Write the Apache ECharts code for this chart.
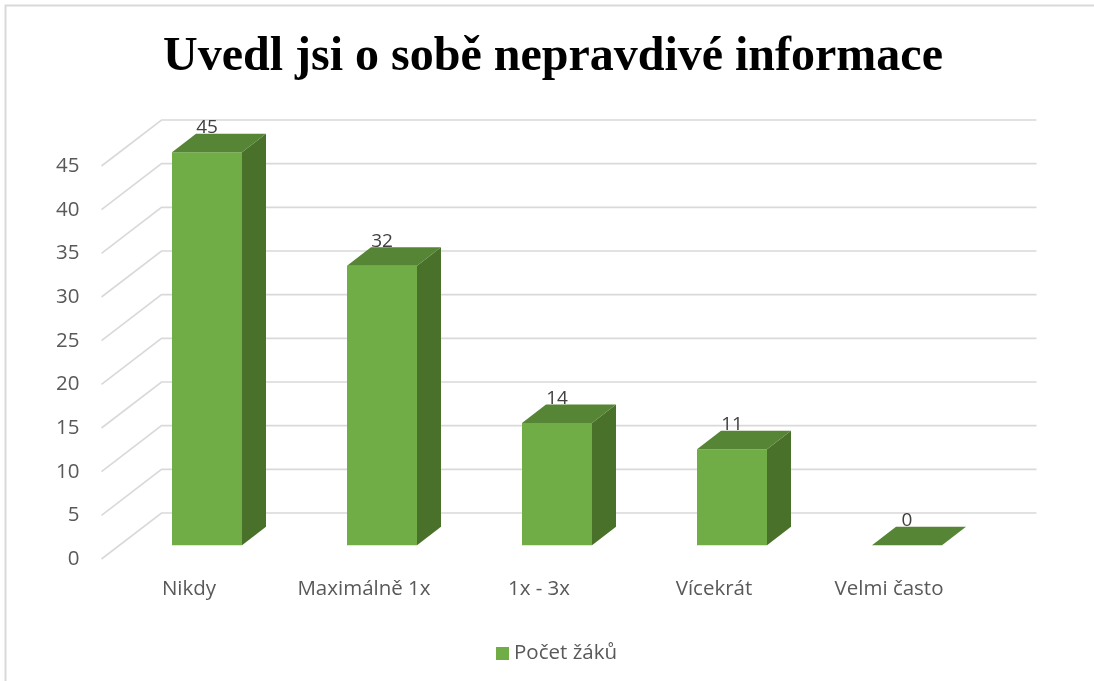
<!DOCTYPE html>
<html>
<head>
<meta charset="utf-8">
<script src="https://cdn.jsdelivr.net/npm/echarts@6/dist/echarts.min.js"></script>
<style>
  html, body { margin: 0; padding: 0; background: #ffffff; }
  #chart { width: 1094px; height: 681px; }
</style>
</head>
<body>
<div id="chart"></div>
<script>
// Survey answers and how many pupils gave each one
const categories = ['Nikdy', 'Maximálně 1x', '1x - 3x', 'Vícekrát', 'Velmi často'];
const counts = [45, 32, 14, 11, 0];
const valueTicks = [0, 5, 10, 15, 20, 25, 30, 35, 40, 45];
const seriesName = 'Počet žáků';
const titleText = 'Uvedl jsi o sobě nepravdivé informace';

// Oblique 3D look: full floor depth as a pixel offset, bar placement inside that depth
const DEPTH_X = 60, DEPTH_Y = -46;
const BAR_FRONT = 0.3, BAR_BACK = 0.7;
const BAR_SHARE = 0.4;

const FONT = '"Open Sans", Lato, sans-serif';
const AXIS_FONT_SIZE = 20.5;
const COLORS = { front: '#70AD47', side: '#4A7129', top: '#568536', grid: '#D9D9D9', text: '#595959', label: '#404040' };

const chart = echarts.init(document.getElementById('chart'), null, { renderer: 'canvas' });

// Back-wall grid: slanted side line plus horizontal back line for each tick
function renderGridLine(params, api) {
  const y = api.coord([0, api.value(1)])[1];
  const cs = params.coordSys;
  return {
    type: 'polyline',
    silent: true,
    shape: { points: [[cs.x, y], [cs.x + DEPTH_X, y + DEPTH_Y], [cs.x + cs.width + DEPTH_X, y + DEPTH_Y]] },
    style: { stroke: COLORS.grid, lineWidth: 1.6, fill: null }
  };
}

// Prism bar: front face, right side face, top face and value label
function renderBar(params, api) {
  const idx = api.value(0), val = api.value(1);
  const base = api.coord([idx, 0]);
  const top = api.coord([idx, val]);
  const half = api.size([1, 0])[0] * BAR_SHARE / 2;
  const fx = DEPTH_X * BAR_FRONT, fy = DEPTH_Y * BAR_FRONT;
  const bx = DEPTH_X * BAR_BACK, by = DEPTH_Y * BAR_BACK;
  const xL = base[0] - half, xR = base[0] + half;
  const children = [];
  if (base[1] - top[1] > 0) {
    children.push({
      type: 'polygon',
      shape: { points: [[xR + fx, top[1] + fy], [xR + bx, top[1] + by], [xR + bx, base[1] + by], [xR + fx, base[1] + fy]] },
      style: { fill: COLORS.side }
    });
    children.push({
      type: 'rect',
      shape: { x: xL + fx, y: top[1] + fy, width: xR - xL, height: base[1] - top[1] },
      style: { fill: COLORS.front }
    });
  }
  children.push({
    type: 'polygon',
    shape: { points: [[xL + fx, top[1] + fy], [xL + bx, top[1] + by], [xR + bx, top[1] + by], [xR + fx, top[1] + fy]] },
    style: { fill: COLORS.top }
  });
  children.push({
    type: 'text',
    style: {
      text: String(val), x: base[0] + fx, y: top[1] + by - 6,
      align: 'center', verticalAlign: 'middle',
      font: '19px ' + FONT, fill: COLORS.label
    }
  });
  return { type: 'group', children: children };
}

const option = {
  animation: false,
  backgroundColor: '#ffffff',
  title: {
    text: titleText,
    left: 158,
    top: 29,
    textStyle: { fontFamily: '"Liberation Serif", "Times New Roman", serif', fontWeight: 'bold', fontSize: 48, color: '#000000' }
  },
  legend: {
    data: [seriesName],
    left: 491,
    top: 638,
    icon: 'rect',
    itemWidth: 13,
    itemHeight: 13,
    itemGap: 6,
    textStyle: { fontFamily: FONT, fontSize: AXIS_FONT_SIZE, color: COLORS.text }
  },
  grid: { left: 101.5, width: 875, top: 166, height: 393, containLabel: false },
  xAxis: {
    type: 'category',
    data: categories,
    axisLine: { show: false },
    axisTick: { show: false },
    splitLine: { show: false },
    axisLabel: { margin: 20, fontFamily: FONT, fontSize: AXIS_FONT_SIZE, color: COLORS.text }
  },
  yAxis: {
    type: 'value',
    min: 0,
    max: 45,
    interval: 5,
    axisLine: { show: false },
    axisTick: { show: false },
    splitLine: { show: false },
    axisLabel: { margin: 22, fontFamily: FONT, fontSize: AXIS_FONT_SIZE, color: COLORS.text }
  },
  graphic: [{
    type: 'rect',
    silent: true,
    shape: { x: 5.5, y: 5.5, width: 1200, height: 1000 },
    style: { fill: null, stroke: '#D9D9D9', lineWidth: 2 }
  }],
  series: [
    {
      type: 'custom',
      silent: true,
      renderItem: renderGridLine,
      data: valueTicks.map(v => [0, v]),
      z: 1
    },
    {
      name: seriesName,
      type: 'custom',
      renderItem: renderBar,
      itemStyle: { color: COLORS.front },
      data: counts.map((c, i) => [i, c]),
      z: 2
    }
  ]
};

chart.setOption(option);
</script>
</body>
</html>
